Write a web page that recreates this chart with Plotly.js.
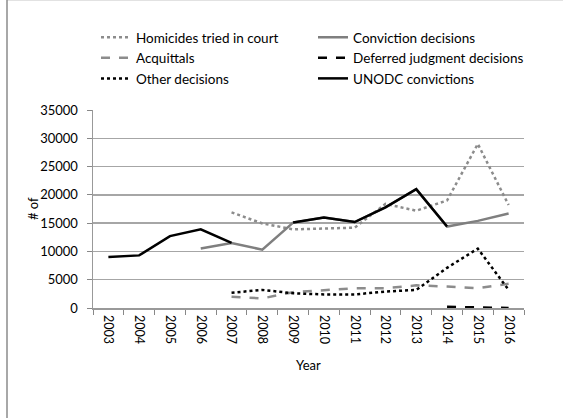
<!DOCTYPE html>
<html>
<head>
<meta charset="utf-8">
<script src="https://cdn.plot.ly/plotly-3.0.1.min.js"></script>
<style>html,body{margin:0;padding:0;background:#fff;}#chart{width:563px;height:418px;}</style>
</head>
<body>
<div id="chart"></div>
<script>
var years = ["2003","2004","2005","2006","2007","2008","2009","2010","2011","2012","2013","2014","2015","2016"];
var homicidesTried = [null,null,null,null,16900,14950,13900,14100,14200,18400,17200,19000,29000,18200];
var convictionDecisions = [null,null,null,10500,11500,10300,15100,16000,15200,17800,21000,14400,15400,16700];
var acquittals = [null,null,null,null,2000,1700,2800,3200,3500,3500,4000,3800,3500,4300];
var deferredJudgment = [null,null,null,null,null,null,null,null,null,null,null,200,150,0];
var otherDecisions = [null,null,null,null,2700,3200,2600,2400,2400,2900,3200,7100,10500,3200];
var unodcConvictions = [9000,9300,12700,13900,11500,null,15100,16000,15200,17800,21000,14400,null,null];
var xTitle = "Year";
var yTitle = "# of";

var FONT = "Lato, 'Liberation Sans', sans-serif";
function tr(name, y, color, dash, width, legend) {
  return {type:"scatter", mode:"lines", name:name, x:years, y:y, legend:legend,
    line:{color:color, dash:dash, width:width}, connectgaps:false, hoverinfo:"skip"};
}
var data = [
  tr("Homicides tried in court", homicidesTried, "#8c8c8c", "dot", 2.5, "legend"),
  tr("Conviction decisions", convictionDecisions, "#7f7f7f", "solid", 2.5, "legend2"),
  tr("Acquittals", acquittals, "#8c8c8c", "dash", 2.5, "legend"),
  tr("Deferred judgment decisions", deferredJudgment, "#000000", "dash", 2.5, "legend2"),
  tr("Other decisions", otherDecisions, "#000000", "dot", 2.5, "legend"),
  tr("UNODC convictions", unodcConvictions, "#000000", "solid", 2.5, "legend2")
];
var legendCommon = {orientation:"v", xref:"container", yref:"container", yanchor:"top", xanchor:"left",
  font:{family:FONT, size:13.5, color:"#000"}, bgcolor:"rgba(0,0,0,0)", borderwidth:0, tracegroupgap:0, itemclick:false};
var layout = {
  width:563, height:418, autosize:false,
  margin:{l:93, r:39, t:110, b:110, autoexpand:false},
  paper_bgcolor:"#fff", plot_bgcolor:"#fff",
  font:{family:FONT, size:12, color:"#000"},
  showlegend:true,
  legend:Object.assign({}, legendCommon, {x:96/563, y:1-22/418}),
  legend2:Object.assign({}, legendCommon, {x:313/563, y:1-22/418}),
  xaxis:{type:"category", range:[-0.5,13.5], tickson:"boundaries", ticks:"outside", ticklen:5, tickcolor:"#888",
    tickangle:90, ticklabelstandoff:3, showgrid:false, showline:true, linecolor:"#999", linewidth:1.5,
    tickfont:{family:FONT, size:12.5}, fixedrange:true},
  yaxis:{range:[0,35000], dtick:5000, tickmode:"linear", tickformat:"d", ticks:"outside", ticklen:5, tickcolor:"#888",
    ticklabelstandoff:6,
    showgrid:true, gridcolor:"#a6a6a6", gridwidth:1.5, zeroline:false, showline:true, linecolor:"#999", linewidth:1.5,
    tickfont:{family:FONT, size:13}, fixedrange:true},
  annotations:[
    {text:xTitle, xref:"paper", yref:"paper", x:0.5, y:(308-364)/196, xanchor:"center", yanchor:"middle",
     showarrow:false, font:{family:FONT, size:13, color:"#000"}},
    {text:yTitle, xref:"paper", yref:"paper", x:(33-93)/431, y:0.5, xanchor:"center", yanchor:"middle",
     textangle:-90, showarrow:false, font:{family:FONT, size:13, color:"#000"}}
  ],
  shapes:[{type:"rect", xref:"paper", yref:"paper", x0:(7-93)/431, x1:2, y0:-1, y1:(308-2.5)/196,
    line:{color:"#8c8c8c", width:1.5}, fillcolor:"rgba(0,0,0,0)", layer:"below"}]
};
Plotly.newPlot("chart", data, layout, {displayModeBar:false, staticPlot:true});
</script>
</body>
</html>
